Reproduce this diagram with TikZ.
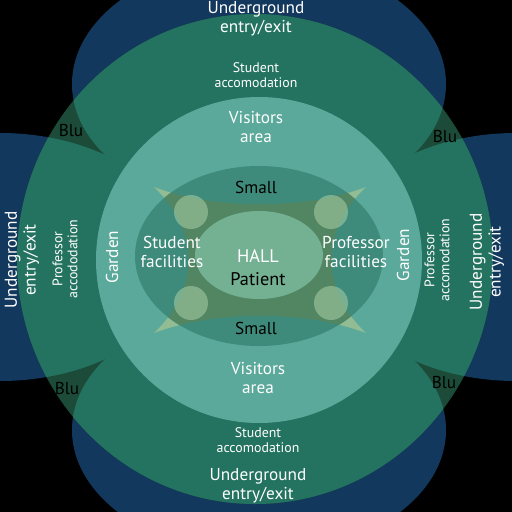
\documentclass[tikz,border=0pt]{standalone}
\usepackage{fontspec}
\setmainfont{PT Sans}
\definecolor{tunnelblue}{RGB}{19,56,93}
\definecolor{bludark}{RGB}{28,76,57}
\definecolor{ringgreen}{RGB}{36,115,96}
\definecolor{visitorgreen}{RGB}{91,169,154}
\definecolor{smallteal}{RGB}{62,139,123}
\definecolor{starlight}{RGB}{145,188,148}
\definecolor{starolive}{RGB}{82,134,99}
\definecolor{hallgreen}{RGB}{116,176,146}
\definecolor{dotgreen}{RGB}{170,208,166}
\begin{document}
\begin{tikzpicture}[x=0.02cm, y=-0.02cm,
        lbl/.style={align=center, text=white, inner sep=0pt, font=\fontsize{9.8}{10.6}\selectfont},
        minor/.style={lbl, font=\fontsize{7.9}{8.6}\selectfont},
        darklbl/.style={lbl, text=black},
        hallbl/.style={lbl, font=\fontsize{10.4}{11}\selectfont},
        dot/.style={fill=dotgreen, fill opacity=0.55}
    ]
    \useasboundingbox (0,0) rectangle (512,512);
    \clip (0,0) rectangle (512,512);
    \fill[black] (0,0) rectangle (512,512);
    % tunnels
    \fill[tunnelblue] (259,84) ellipse [x radius=187, y radius=125];
    \fill[tunnelblue] (259,430) ellipse [x radius=187, y radius=125];
    \fill[tunnelblue] (0,257) ellipse [x radius=185, y radius=124];
    \fill[tunnelblue] (516,257) ellipse [x radius=185, y radius=124];
    % accomodation ring
    \fill[bludark] (255,259) ellipse [x radius=238, y radius=245];
    \begin{scope}
        \clip (255,259) ellipse [x radius=238, y radius=245];
        \fill[ringgreen] (259,84) ellipse [x radius=187, y radius=125];
        \fill[ringgreen] (259,430) ellipse [x radius=187, y radius=125];
        \fill[ringgreen] (0,257) ellipse [x radius=185, y radius=124];
        \fill[ringgreen] (516,257) ellipse [x radius=185, y radius=124];
    \end{scope}
    % visitors / garden
    \fill[visitorgreen] (259,260) circle [radius=163];
    % star and small ring
    \coordinate (tl) at (154,187);
    \coordinate (tr) at (366,187);
    \coordinate (br) at (366,333);
    \coordinate (bl) at (154,333);
    \fill[starlight] (tl) .. controls (215,210) and (305,210) .. (tr)
        .. controls (320,230) and (320,290) .. (br)
        .. controls (305,310) and (215,310) .. (bl)
        .. controls (200,290) and (200,230) .. (tl) -- cycle;
    \fill[smallteal] (259,256) ellipse [x radius=124, y radius=90];
    \begin{scope}
        \clip (259,256) ellipse [x radius=124, y radius=90];
        \fill[starolive] (tl) .. controls (215,210) and (305,210) .. (tr)
            .. controls (320,230) and (320,290) .. (br)
            .. controls (305,310) and (215,310) .. (bl)
            .. controls (200,290) and (200,230) .. (tl) -- cycle;
    \end{scope}
    \fill[hallgreen] (259,255) ellipse [x radius=64, y radius=44];
    \fill[dot] (191,212) circle [radius=17];
    \fill[dot] (331,212) circle [radius=17];
    \fill[dot] (191,303) circle [radius=17];
    \fill[dot] (331,303) circle [radius=17];
    % labels
    \node[lbl] (exittop) at (256,19) {Underground\\entry/exit};
    \node[minor] (acctop) at (256,75) {Student\\accomodation};
    \node[lbl] (vistop) at (256,127) {Visitors\\area};
    \node[darklbl] (smalltop) at (256,187) {Small};
    \node[lbl] (stufac) at (172,252) {Student\\facilities};
    \node[hallbl] (hall) at (258,256) {HALL};
    \node[hallbl, text=black] (patient) at (258,279) {Patient};
    \node[lbl] (proffac) at (356,252) {Professor\\facilities};
    \node[darklbl] (smallbot) at (256,328) {Small};
    \node[lbl] (visbot) at (258,378) {Visitors\\area};
    \node[minor] (accbot) at (258,440) {Student\\accomodation};
    \node[lbl] (exitbot) at (258,486) {Underground\\entry/exit};
    \node[darklbl] (blutl) at (71,130) {Blu};
    \node[darklbl] (blutr) at (445,137) {Blu};
    \node[darklbl] (blubl) at (67,389) {Blu};
    \node[darklbl] (blubr) at (444,383) {Blu};
    \node[lbl, rotate=90] (exitleft) at (22,260) {Underground\\entry/exit};
    \node[minor, rotate=90] (accleft) at (65,259) {Professor\\accododation};
    \node[lbl, rotate=90] (gardenleft) at (112,257) {Garden};
    \node[lbl, rotate=90] (gardenright) at (403,255) {Garden};
    \node[minor, rotate=90] (accright) at (437,260) {Professor\\accomodation};
    \node[lbl, rotate=90] (exitright) at (487,262) {Underground\\entry/exit};
\end{tikzpicture}
\end{document}
